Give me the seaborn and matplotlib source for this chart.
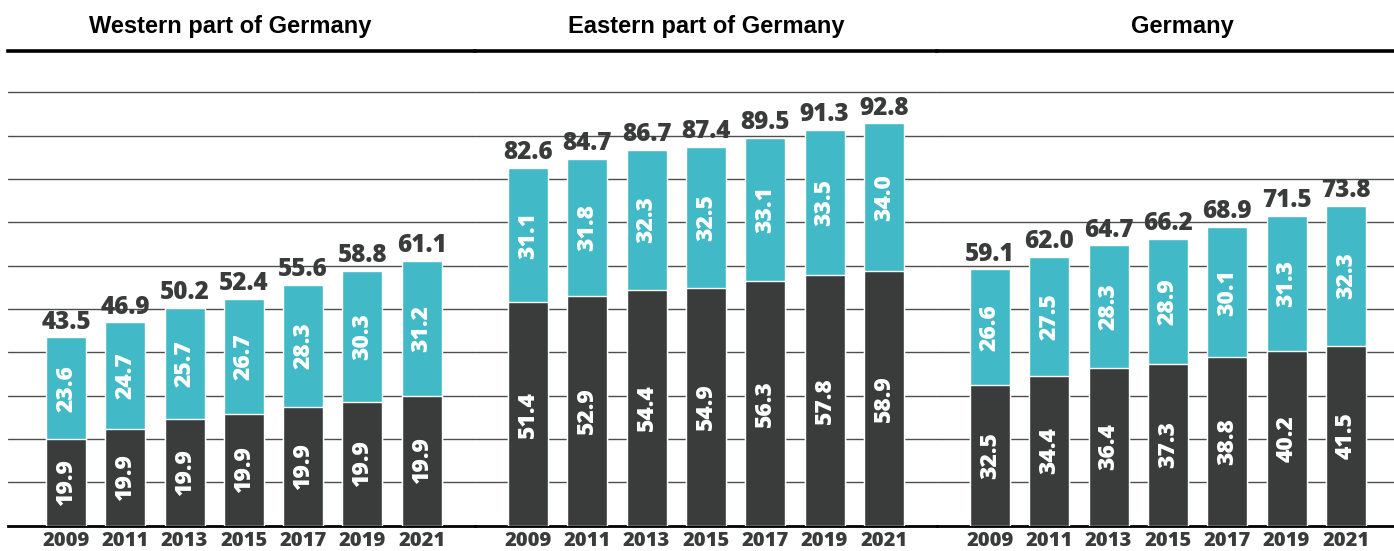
import matplotlib
matplotlib.use("Agg")
import matplotlib.pyplot as plt
import seaborn as sns

years = ["2009", "2011", "2013", "2015", "2017", "2019", "2021"]
titles = ["Western part of Germany", "Eastern part of Germany", "Germany"]

west_base_labels = [19.9, 19.9, 19.9, 19.9, 19.9, 19.9, 19.9]
west_top = [23.6, 24.7, 25.7, 26.7, 28.3, 30.3, 31.2]
west_total = [43.5, 46.9, 50.2, 52.4, 55.6, 58.8, 61.1]

east_base_labels = [51.4, 52.9, 54.4, 54.9, 56.3, 57.8, 58.9]
east_top = [31.1, 31.8, 32.3, 32.5, 33.1, 33.5, 34.0]
east_total = [82.6, 84.7, 86.7, 87.4, 89.5, 91.3, 92.8]

de_base_labels = [32.5, 34.4, 36.4, 37.3, 38.8, 40.2, 41.5]
de_top = [26.6, 27.5, 28.3, 28.9, 30.1, 31.3, 32.3]
de_total = [59.1, 62.0, 64.7, 66.2, 68.9, 71.5, 73.8]

panels = [
    (west_base_labels, west_top, west_total),
    (east_base_labels, east_top, east_total),
    (de_base_labels, de_top, de_total),
]

TEAL = "#41b9c6"
DARK = "#3a3b3b"
NUMFONT = ["Open Sans", "DejaVu Sans"]

sns.set_theme(style="white")
plt.rcParams["font.family"] = ["Open Sans", "DejaVu Sans"]

W, H = 1394, 551
fig = plt.figure(figsize=(W / 100, H / 100), dpi=100)

# axes geometry in pixels: (left, right, xlim0, xlim1)
edges = [(8, 475, -0.98, 6.9), (475, 937, -0.894, 6.894), (937, 1394, -0.894, 6.81)]
base_px = 525.7
top_px = 51
ymax = 109.5
title_x = [230, 706, 1182]

for i, ((base_lbl, top, total), (l, r, x0, x1)) in enumerate(zip(panels, edges)):
    ax = fig.add_axes([l / W, 1 - base_px / H, (r - l) / W, (base_px - top_px) / H])
    lower = [t - s for t, s in zip(total, top)]
    sns.barplot(x=years, y=total, color=TEAL, saturation=1, width=0.675, ax=ax, zorder=2)
    sns.barplot(x=years, y=lower, color=DARK, saturation=1, width=0.675, ax=ax, zorder=3)
    ax.set_xlim(x0, x1)
    ax.set_ylim(0, ymax)
    ax.set_yticks(range(10, 101, 10))
    ax.set_yticklabels([])
    ax.yaxis.grid(True, color="#4d4d4d", linewidth=1.0)
    ax.set_axisbelow(True)
    ax.set_xlabel("")
    ax.set_ylabel("")
    ax.tick_params(axis="both", length=0)
    ax.tick_params(axis="x", pad=4)
    for lab in ax.get_xticklabels():
        lab.set_fontsize(14.5)
        lab.set_fontweight("heavy")
        lab.set_color(DARK)
        lab.set_family(NUMFONT)
    for side in ("left", "right"):
        ax.spines[side].set_visible(False)
    ax.spines["bottom"].set_color("black")
    ax.spines["bottom"].set_linewidth(2.0)
    ax.spines["top"].set_color("black")
    ax.spines["top"].set_linewidth(2.6)
    ax.patch.set_alpha(0)

    n = len(years)
    teal_bars = ax.patches[:n]
    dark_bars = ax.patches[n:2 * n]
    for j in range(n):
        tb = teal_bars[j]
        db = dark_bars[j]
        cx = tb.get_x() + tb.get_width() / 2
        ax.text(cx, tb.get_height() + 0.6, f"{total[j]:.1f}", ha="center", va="bottom",
                fontsize=17.5, fontweight="heavy", color=DARK, family=NUMFONT)
        ax.text(cx, (db.get_height() + tb.get_height()) / 2, f"{top[j]:.1f}", ha="center",
                va="center", rotation=90, fontsize=16.5, fontweight="heavy", color="white",
                family=NUMFONT, zorder=5)
        ax.text(cx, db.get_height() / 2, f"{base_lbl[j]:.1f}", ha="center", va="center",
                rotation=90, fontsize=16.5, fontweight="heavy", color="white",
                family=NUMFONT, zorder=5)

    fig.text(title_x[i] / W, 1 - 27 / H, titles[i], ha="center", va="center",
             fontsize=17, fontweight="bold", color="black",
             family=["Liberation Sans", "DejaVu Sans"])

fig.savefig("out.png", dpi=100)
